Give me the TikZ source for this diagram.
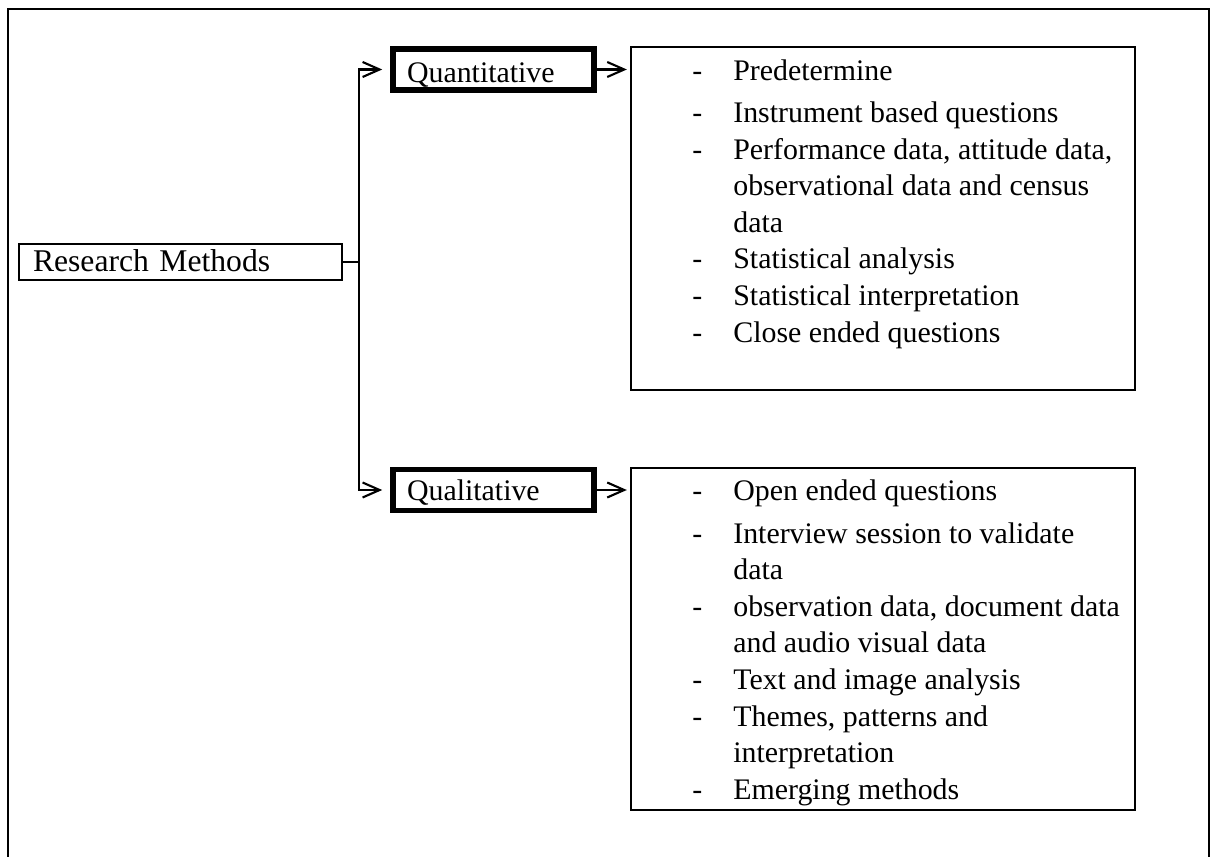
\documentclass[tikz,border=0pt]{standalone}
\usepackage{fontspec}
\setmainfont{Liberation Serif}
\usetikzlibrary{arrows.meta}

\newcommand{\itm}{\makebox[0.82cm][l]{-}}
\newcommand{\cnt}{\hspace*{0.82cm}}

\begin{document}
\begin{tikzpicture}[
        x=0.02cm, y=-0.02cm,
        frame/.style={line width=1pt},
        rmbox/.style={draw, line width=1.2pt, minimum width=6.46cm, minimum height=0.72cm,
                      inner xsep=0.28cm, inner ysep=0pt, text width=5.9cm,
                      text height=0.4cm, text depth=0pt, align=left,
                      font=\fontsize{18}{21}\selectfont},
        mbox/.style={draw, line width=3.2pt, minimum width=4.02cm, minimum height=0.82cm,
                     inner xsep=0.28cm, inner ysep=0pt, text width=3.46cm,
                     text depth=0pt, align=left, font=\fontsize{17}{21}\selectfont},
        listbox/.style={draw, line width=1.4pt, minimum width=10.08cm},
        listtxt/.style={anchor=north west, inner sep=0pt, align=left,
                        font=\fontsize{17}{20.8}\selectfont},
        link/.style={line width=1.2pt},
        arr/.style={link, -{Straight Barb[length=0.34cm, width=0.3cm]}},
      ]
        \useasboundingbox (0,0) rectangle (1212,857);

        % outer frame, open at the bottom
        \draw[frame] (8,857) -- (8,9) -- (1209,9) -- (1209,857);

        % root
        \node[rmbox] (rm) at (180.5,262) {Research Methods};
        \coordinate (fork) at (359,262);

        % the two methods
        \node[mbox, text height=0.54cm] (quant) at (493.5,69.5) {Quantitative};
        \node[mbox, text height=0.42cm] (qual) at (493.5,490) {Qualitative};

        % Quantitative list
        \node[listbox, minimum height=6.86cm] (qnbox) at (883,218.5) {};
        \node[listtxt] (qntxt) at (692,54.3) {\strut\itm Predetermine\\[0.12cm]
          \itm Instrument based questions\\
          \itm Performance data, attitude data,\\
          \cnt observational data and census\\
          \cnt data\\
          \itm Statistical analysis\\
          \itm Statistical interpretation\\
          \itm Close ended questions};

        % Qualitative list
        \node[listbox, minimum height=6.84cm] (qlbox) at (883,639) {};
        \node[listtxt] (qltxt) at (692,474.3) {\strut\itm Open ended questions\\[0.13cm]
          \itm Interview session to validate\\
          \cnt data\\
          \itm observation data, document data\\
          \cnt and audio visual data\\
          \itm Text and image analysis\\
          \itm Themes, patterns and\\
          \cnt interpretation\\
          \itm Emerging methods};

        % connectors
        \draw[link] (rm.east) -- (fork);
        \draw[arr, shorten >=0.16cm] (fork) |- (quant.west);
        \draw[arr, shorten >=0.16cm] (fork) |- (qual.west);
        \draw[arr, shorten >=0.06cm] (quant.east) -- (quant.east -| qnbox.west);
        \draw[arr, shorten >=0.06cm] (qual.east) -- (qual.east -| qlbox.west);
      \end{tikzpicture}
\end{document}
